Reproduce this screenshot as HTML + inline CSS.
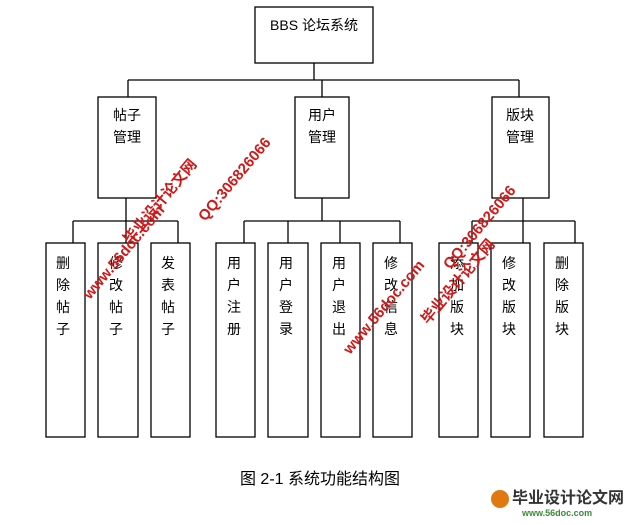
<!DOCTYPE html>
<html><head><meta charset="utf-8"><style>
body{margin:0;background:#fff;}
svg text{font-family:"Liberation Sans","Noto Sans CJK SC",sans-serif;}
</style></head><body>
<svg width="640" height="520" viewBox="0 0 640 520" xmlns="http://www.w3.org/2000/svg">
<g fill="none" stroke="#000" stroke-width="1.3">
<rect x="255" y="7" width="118" height="56"/>
<line x1="314" y1="63" x2="314" y2="80"/>
<line x1="128" y1="80" x2="519" y2="80"/>
<line x1="128" y1="80" x2="128" y2="97"/>
<line x1="322" y1="80" x2="322" y2="97"/>
<line x1="519" y1="80" x2="519" y2="97"/>
<rect x="98" y="97" width="58" height="101"/>
<rect x="295" y="97" width="54" height="101"/>
<rect x="492" y="97" width="57" height="101"/>
<line x1="126" y1="198" x2="126" y2="221"/>
<line x1="322" y1="198" x2="322" y2="221"/>
<line x1="523" y1="198" x2="523" y2="221"/>
<line x1="73" y1="221" x2="178" y2="221"/>
<line x1="244" y1="221" x2="400" y2="221"/>
<line x1="472" y1="221" x2="575" y2="221"/>
<line x1="73" y1="221" x2="73" y2="243"/><line x1="126" y1="221" x2="126" y2="243"/><line x1="178" y1="221" x2="178" y2="243"/>
<line x1="244" y1="221" x2="244" y2="243"/><line x1="288" y1="221" x2="288" y2="243"/><line x1="340" y1="221" x2="340" y2="243"/><line x1="400" y1="221" x2="400" y2="243"/>
<line x1="472" y1="221" x2="472" y2="243"/><line x1="523" y1="221" x2="523" y2="243"/><line x1="575" y1="221" x2="575" y2="243"/>
<rect x="46" y="243" width="39" height="194"/>
<rect x="98" y="243" width="40" height="194"/>
<rect x="151" y="243" width="39" height="194"/>
<rect x="216" y="243" width="39" height="194"/>
<rect x="268" y="243" width="40" height="194"/>
<rect x="321" y="243" width="39" height="194"/>
<rect x="373" y="243" width="39" height="194"/>
<rect x="439" y="243" width="39" height="194"/>
<rect x="491" y="243" width="39" height="194"/>
<rect x="544" y="243" width="39" height="194"/>
</g>
<g font-size="14" fill="#000">
<text x="314" y="30" text-anchor="middle">BBS 论坛系统</text>
<text x="127" y="120" text-anchor="middle">帖子</text><text x="127" y="142" text-anchor="middle">管理</text>
<text x="322" y="120" text-anchor="middle">用户</text><text x="322" y="142" text-anchor="middle">管理</text>
<text x="520" y="120" text-anchor="middle">版块</text><text x="520" y="142" text-anchor="middle">管理</text>
</g>
<g font-size="14" fill="#000" text-anchor="middle">
<text x="63" y="268">删</text><text x="63" y="290">除</text><text x="63" y="312">帖</text><text x="63" y="334">子</text>
<text x="116" y="268">修</text><text x="116" y="290">改</text><text x="116" y="312">帖</text><text x="116" y="334">子</text>
<text x="168" y="268">发</text><text x="168" y="290">表</text><text x="168" y="312">帖</text><text x="168" y="334">子</text>
<text x="234" y="268">用</text><text x="234" y="290">户</text><text x="234" y="312">注</text><text x="234" y="334">册</text>
<text x="286" y="268">用</text><text x="286" y="290">户</text><text x="286" y="312">登</text><text x="286" y="334">录</text>
<text x="339" y="268">用</text><text x="339" y="290">户</text><text x="339" y="312">退</text><text x="339" y="334">出</text>
<text x="391" y="268">修</text><text x="391" y="290">改</text><text x="391" y="312">信</text><text x="391" y="334">息</text>
<text x="457" y="268">添</text><text x="457" y="290">加</text><text x="457" y="312">版</text><text x="457" y="334">块</text>
<text x="509" y="268">修</text><text x="509" y="290">改</text><text x="509" y="312">版</text><text x="509" y="334">块</text>
<text x="562" y="268">删</text><text x="562" y="290">除</text><text x="562" y="312">版</text><text x="562" y="334">块</text>
</g>
<text x="320" y="484" font-size="16" text-anchor="middle" fill="#000">图 2-1  系统功能结构图</text>
<g fill="#d01818" font-weight="bold" font-size="15">
<text transform="translate(130,245) rotate(-50)">毕业设计论文网</text>
<text transform="translate(205,222) rotate(-50)">QQ:306826066</text>
<text transform="translate(90,300) rotate(-50)">www.56doc.com</text>
<text transform="translate(350,355) rotate(-50)">www.56doc.com</text>
<text transform="translate(428,325) rotate(-50)">毕业设计论文网</text>
<text transform="translate(450,270) rotate(-50)">QQ:306826066</text>
</g>
<circle cx="500" cy="499" r="9" fill="#e07a10"/>
<text x="512" y="503" font-size="16" font-weight="bold" fill="#333">毕业设计论文网</text>
<text x="522" y="516" font-size="9" font-weight="bold" fill="#3a8a3a">www.56doc.com</text>
</svg>
</body></html>
